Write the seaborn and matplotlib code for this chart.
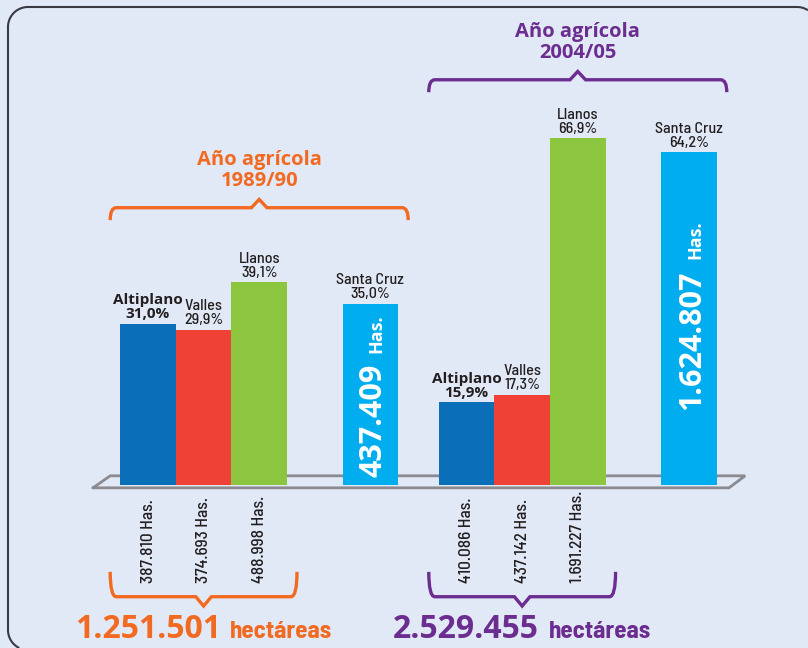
import matplotlib
matplotlib.use("Agg")
import matplotlib.pyplot as plt
import seaborn as sns
import numpy as np
import pandas as pd
from matplotlib.patches import PathPatch
from matplotlib.path import Path
from matplotlib.offsetbox import TextArea, HPacker, AnnotationBbox

# datos (superficie cultivada por región)
regiones = ["Altiplano", "Valles", "Llanos", "Santa Cruz"]
pct_1989 = [31.0, 29.9, 39.1, 35.0]
pct_2004 = [15.9, 17.3, 66.9, 64.2]
has_1989 = ["387.810", "374.693", "488.998", "437.409"]
has_2004 = ["410.086", "437.142", "1.691.227", "1.624.807"]
total_1989 = "1.251.501"
total_2004 = "2.529.455"
periodos = ["1989/90", "2004/05"]

colores = {"Altiplano": "#0a6fb8", "Valles": "#ef4135",
           "Llanos": "#8cc63f", "Santa Cruz": "#00aeef"}
NARANJA = "#f26a21"
MORADO = "#6b2d90"
FONDO = "#e2e9f6"
TEXTO = "#231f20"

# posicion de las barras en el eje x
pos_1989 = [0, 1, 2, 4]
pos_2004 = [5.73, 6.73, 7.73, 9.73]

FUENTE = "Open Sans"
COND = dict(fontfamily="Barlow Semi Condensed")

sns.set_theme(style="white")
fig = plt.figure(figsize=(8.08, 6.48), dpi=100)
fig.patch.set_facecolor(FONDO)
ax = fig.add_axes([0, 0, 1, 1])
ax.set_facecolor(FONDO)

df = pd.DataFrame({
    "region": regiones * 2,
    "pct": pct_1989 + pct_2004,
    "x": pos_1989 + pos_2004,
})
sns.barplot(data=df, x="x", y="pct", hue="region", hue_order=regiones,
            palette=colores, native_scale=True, width=1, dodge=False,
            saturation=1, errorbar=None, legend=False, linewidth=0,
            zorder=3, ax=ax)
ax.set_xlim(-2.662, 11.871)
ax.set_ylim(-31.5, 93.6)
ax.axis("off")

# piso en perspectiva
xa, xb = pos_1989[0] - 0.5, pos_2004[-1] + 0.5
ax.plot([xa - 0.49, xa - 0.18, xb + 0.51, xb + 0.22, xa - 0.49],
        [-0.58, 1.74, 1.74, -0.58, -0.58], color="#8a8a90", lw=2,
        zorder=1, solid_joinstyle="miter")


def llave(x0, x1, y, alto, punta, color, arriba=True):
    s = 1 if arriba else -1
    xm = (x0 + x1) / 2
    rx, dx = 0.11, 0.14
    verts = [(x0, y - s * alto), (x0, y), (x0 + rx, y),
             (xm - dx, y), (xm, y + s * punta), (xm + dx, y),
             (x1 - rx, y), (x1, y), (x1, y - s * alto)]
    codes = [Path.MOVETO, Path.CURVE3, Path.CURVE3,
             Path.LINETO, Path.LINETO, Path.LINETO,
             Path.LINETO, Path.CURVE3, Path.CURVE3]
    ax.add_patch(PathPatch(Path(verts, codes), fc="none", ec=color, lw=2.4,
                           capstyle="butt", joinstyle="miter", zorder=2))
    return xm


grupos = [(pos_1989, pct_1989, has_1989, total_1989, NARANJA, periodos[0], 53.5, 1.5),
          (pos_2004, pct_2004, has_2004, total_2004, MORADO, periodos[1], 78.2, 14.5)]

for pos, pct, has, total, color, periodo, y_llave, y_num in grupos:
    # llave superior y titulo
    xm = llave(pos[0] - 0.68, pos[3] + 0.68, y_llave, 2.4, 1.6, color)
    ax.text(xm, y_llave + 9.2, "Año agrícola", ha="center", va="center",
            fontfamily=FUENTE, fontweight="bold", fontsize=14.5, color=color)
    ax.text(xm, y_llave + 5.1, periodo, ha="center", va="center",
            fontfamily=FUENTE, fontweight="bold", fontsize=14.5, color=color)

    # etiquetas encima de las barras
    for reg, x, v in zip(regiones, pos, pct):
        lbl = f"{reg}\n{v:.1f}".replace(".", ",") + "%"
        if reg == "Altiplano":
            kw = dict(fontfamily=FUENTE, fontweight="bold", fontsize=11)
        else:
            kw = dict(COND, fontweight="medium", fontsize=11.5)
        ax.annotate(lbl, xy=(x, v), xytext=(0, 2), textcoords="offset points",
                    ha="center", va="bottom", color=TEXTO, linespacing=1.0, **kw)

    # hectareas debajo del piso
    for x, h in zip(pos[:3], has[:3]):
        ax.text(x, -18.9, f"{h} Has.", rotation=90, rotation_mode="anchor",
                ha="left", va="center", fontsize=12.5, fontweight="medium",
                color=TEXTO, **COND)

    # texto dentro de la barra de Santa Cruz
    t = ax.text(pos[3] + 0.2, y_num, has[3], rotation=90, rotation_mode="anchor",
                ha="left", va="baseline", color="white", fontfamily=FUENTE,
                fontweight="bold", fontsize=22, zorder=5)
    ax.annotate("Has.", xy=(pos[3] + 0.2, 1), xycoords=("data", t),
                xytext=(0, 8), textcoords="offset points", rotation=90,
                rotation_mode="anchor", ha="left", va="baseline", color="white",
                fontfamily=FUENTE, fontweight="bold", fontsize=13, zorder=5)

    # llave inferior y total
    xm2 = llave(pos[0] - 0.68, pos[2] + 0.68, -21.6, 4.8, 1.8, color, arriba=False)
    caja = HPacker(children=[
        TextArea(total, textprops=dict(color=color, fontfamily=FUENTE,
                                       fontweight="bold", fontsize=23)),
        TextArea("hectáreas", textprops=dict(color=color, fontweight="bold",
                                             fontsize=18, **COND)),
    ], align="baseline", pad=0, sep=7)
    ax.add_artist(AnnotationBbox(caja, (xm2, -27.9), xycoords="data",
                                 frameon=False, box_alignment=(0.5, 0.5), pad=0))

# marco redondeado (solo la parte visible, en pulgadas)
r = 0.2
def arco(cx, cy, a0, a1):
    t = np.radians(np.linspace(a0, a1, 30))
    return np.column_stack([cx + r * np.cos(t), cy + r * np.sin(t)])

pts = np.vstack([arco(0.28, 0.18, 244, 180),
                 arco(0.28, 6.21, 180, 90),
                 arco(7.97, 6.21, 90, 57)])
fig.add_artist(PathPatch(Path(pts), fc="none", ec="#3a3a42", lw=1.5,
                         transform=fig.dpi_scale_trans))

fig.savefig("out.png", dpi=100)
